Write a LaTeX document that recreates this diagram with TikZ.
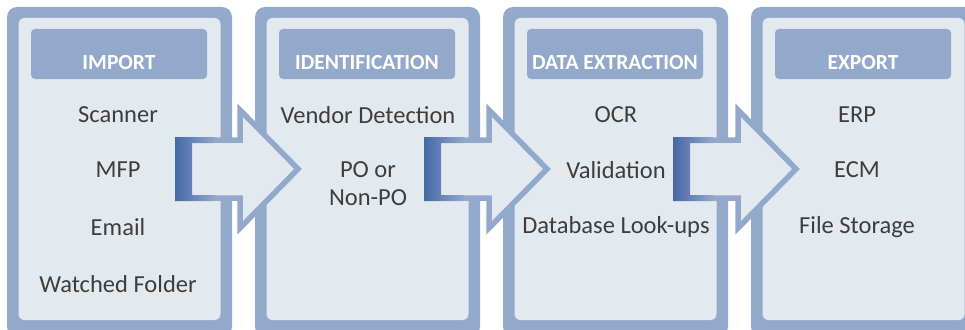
\documentclass[tikz,border=0pt]{standalone}
\usepackage{fontspec}
\setmainfont{Carlito}
\definecolor{boxline}{HTML}{93A9CB}
\definecolor{boxfill}{HTML}{E3EAEF}
\definecolor{arrowdark}{HTML}{4668A6}
\definecolor{itemtext}{HTML}{403C3A}
\tikzset{
  panel/.style={fill=boxline, rounded corners=10pt, minimum width=225pt, minimum height=330pt, inner sep=0pt},
  panelin/.style={fill=boxfill, rounded corners=6pt, minimum width=202pt, minimum height=302pt, inner sep=0pt},
  head/.style={fill=boxline, rounded corners=4pt, minimum width=176pt, minimum height=50pt, inner sep=0pt,
    text height=32pt, text depth=0pt, text=white, font=\fontsize{21.5}{24}\selectfont\bfseries},
  item/.style={text=itemtext, font=\fontsize{24.5}{28}\selectfont, align=center, inner sep=0pt}
}
\begin{document}
\begin{tikzpicture}[x=1pt,y=-1pt]
  \useasboundingbox (0,0) rectangle (965,329);
  \clip (0,0) rectangle (965,329);
  % panels
  \foreach \nm/\i in {import/0, ident/1, extract/2, export/3} {
    \node[panel] (\nm) at (119.5+248*\i,172) {};
    \node[panelin] (\nm-in) at (119.5+248*\i,169) {};
  }
  % block arrows between the panels
  \foreach \i in {0,1,2} {
    \begin{scope}[xshift=249*\i]
      \draw[fill=boxfill, draw=boxline, line width=5.5pt, line join=miter]
        (178,140) -- (240,140) -- (240,110) -- (298,169) -- (240,228) -- (240,198) -- (178,198) -- cycle;
      \shade[left color=arrowdark, middle color=arrowdark, right color=boxline]
        (175,137) -- (215,137) -- (215,143) -- (192,143) -- (192,195) -- (215,195) -- (215,201) -- (175,201) -- cycle;
    \end{scope}
  }
  % headers
  \node[head] (import-head) at (119,54) {IMPORT};
  \node[head] (ident-head) at (367,54) {IDENTIFICATION};
  \node[head] (extract-head) at (615,54) {DATA EXTRACTION};
  \node[head] (export-head) at (863,54) {EXPORT};
  % items
  \node[item] (scanner) at (118,115) {Scanner};
  \node[item] (mfp) at (118,170) {MFP};
  \node[item] (email) at (118,227) {Email};
  \node[item] (folder) at (118,284) {Watched Folder};
  \node[item] (vendor) at (368,115) {Vendor Detection};
  \node[item] (po) at (368,184) {PO or\\Non-PO};
  \node[item] (ocr) at (616,115) {OCR};
  \node[item] (valid) at (616,170) {Validation};
  \node[item] (lookup) at (616,227) {Database Look-ups};
  \node[item] (erp) at (857,115) {ERP};
  \node[item] (ecm) at (857,170) {ECM};
  \node[item] (storage) at (857,227) {File Storage};
\end{tikzpicture}
\end{document}
